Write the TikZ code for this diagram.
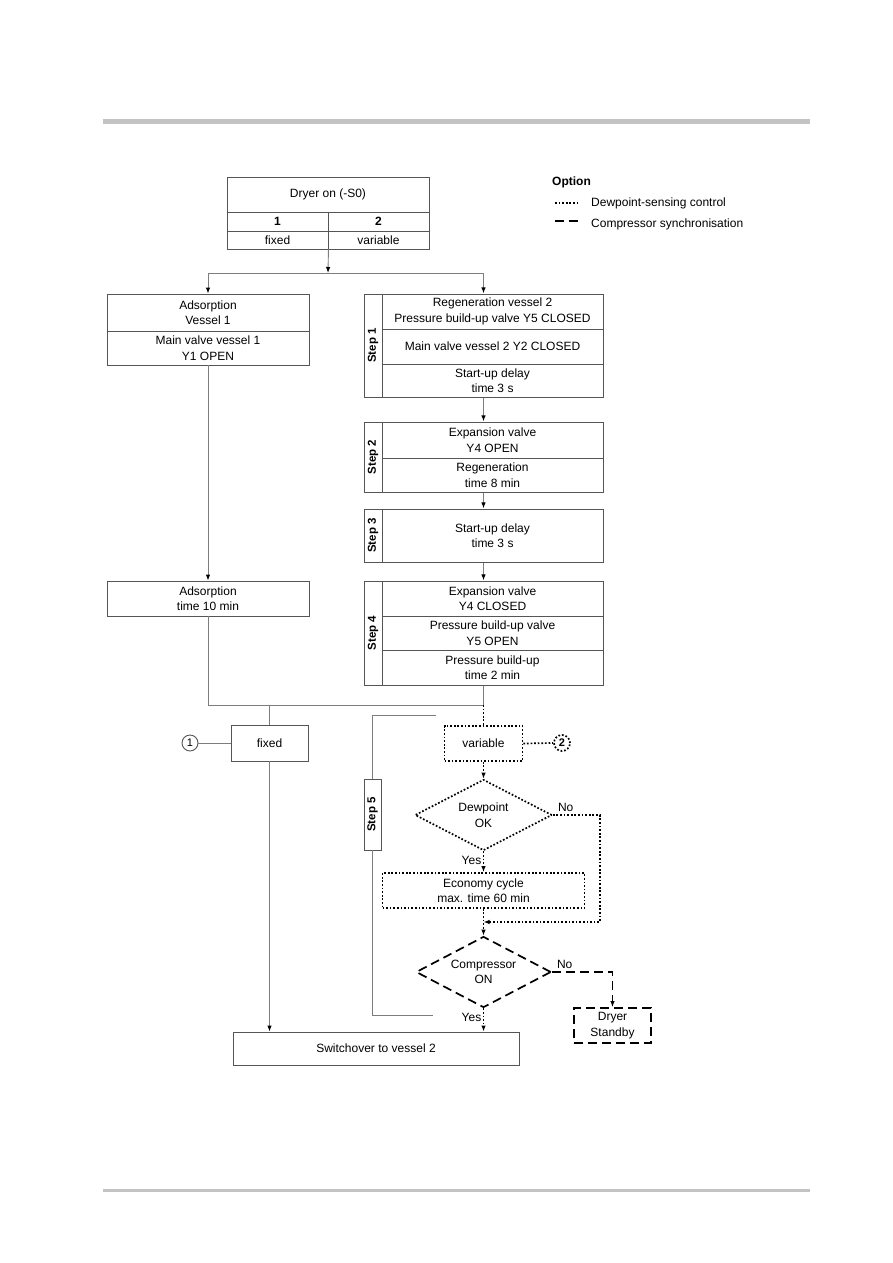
\documentclass[tikz,border=0pt]{standalone}
\usepackage{fontspec}
\setmainfont{Liberation Sans}
\usetikzlibrary{arrows.meta,fit,shapes.geometric,positioning}
\definecolor{frame}{RGB}{85,85,85}
\definecolor{wire}{RGB}{125,125,125}
\definecolor{rule}{RGB}{195,195,195}
\newcommand{\flowfont}{\fontsize{12}{15.5}\selectfont}

\begin{document}
\begin{tikzpicture}[x=1pt,y=-1pt,>={Latex[length=6pt,width=4.5pt,color=black]},
  font=\flowfont,
  cellbox/.style={draw=frame,line width=0.9pt,inner sep=0pt,align=center},
  tabbox/.style={cellbox,minimum width=18pt,font=\fontsize{11.5}{14}\selectfont\bfseries},
  stepcell/.style={cellbox,minimum width=221pt},
  leftcell/.style={cellbox,minimum width=202pt},
  wireline/.style={draw=wire,line width=0.9pt},
  dotline/.style={draw=black,line width=1.7pt,dash pattern=on 1.7pt off 1.9pt},
  dashline/.style={draw=black,line width=1.7pt,dash pattern=on 9pt off 5pt},
  choice/.style={diamond,aspect=1.9,inner sep=0pt,align=center},
  tag/.style={inner sep=1pt}]
\useasboundingbox (0,0) rectangle (893,1263);
\fill[rule] (103,119) rectangle (810,123.5);
\fill[rule] (103,1189) rectangle (810,1192);

\node[anchor=west,inner sep=0pt,font=\flowfont\bfseries] (opt) at (552,182) {Option};
\node[anchor=west,inner sep=0pt] (leg1) at (591,203) {Dewpoint-sensing control};
\node[anchor=west,inner sep=0pt] (leg2) at (591,224) {Compressor synchronisation};
\draw[dotline] ([xshift=-36pt]leg1.west) -- ([xshift=-11pt]leg1.west);
\draw[dashline] ([xshift=-36pt,yshift=3pt]leg2.west) -- ([xshift=-12pt,yshift=3pt]leg2.west);

\node[leftcell,minimum height=35pt] (dryer) at (328,194.5) {Dryer on (-S0)};
\node[cellbox,minimum width=101pt,minimum height=19pt,font=\flowfont\bfseries] (mode1) at (277.5,221.5) {1};
\node[cellbox,minimum width=101pt,minimum height=19pt,font=\flowfont\bfseries] (mode2) at (378.5,221.5) {2};
\node[cellbox,minimum width=101pt,minimum height=18pt] (modefix) at (277.5,240) {fixed};
\node[cellbox,minimum width=101pt,minimum height=18pt] (modevar) at (378.5,240) {variable};
\coordinate (split) at (328,273);

\node[leftcell,minimum height=37pt] (ads1) at (208,312.5) {Adsorption\\Vessel 1};
\node[leftcell,minimum height=34pt] (ads2) at (208,348) {Main valve vessel 1\\Y1 OPEN};
\node[leftcell,minimum height=35pt] (adstime) at (208,598.5) {Adsorption\\time 10 min};

\node[tabbox,minimum height=103pt] (s1tab) at (373,345.5) {\rotatebox{90}{Step 1}};
\node[stepcell,minimum height=35pt] (s1a) at (492.5,311.5) {Regeneration vessel 2\\Pressure build-up valve Y5 CLOSED};
\node[stepcell,minimum height=35pt] (s1b) at (492.5,346.5) {Main valve vessel 2 Y2 CLOSED};
\node[stepcell,minimum height=33pt] (s1c) at (492.5,380.5) {Start-up delay\\time 3 s};
\node[fit=(s1tab)(s1a)(s1c),inner sep=0pt] (step1) {};

\node[tabbox,minimum height=70pt] (s2tab) at (373,457) {\rotatebox{90}{Step 2}};
\node[stepcell,minimum height=36pt] (s2a) at (492.5,440) {Expansion valve\\Y4 OPEN};
\node[stepcell,minimum height=34pt] (s2b) at (492.5,475) {Regeneration\\time 8 min};
\node[fit=(s2tab)(s2a)(s2b),inner sep=0pt] (step2) {};

\node[tabbox,minimum height=53pt] (s3tab) at (373,535.5) {\rotatebox{90}{Step 3}};
\node[stepcell,minimum height=53pt] (s3a) at (492.5,535.5) {Start-up delay\\time 3 s};
\node[fit=(s3tab)(s3a),inner sep=0pt] (step3) {};

\node[tabbox,minimum height=104pt] (s4tab) at (373,633) {\rotatebox{90}{Step 4}};
\node[stepcell,minimum height=35pt] (s4a) at (492.5,598.5) {Expansion valve\\Y4 CLOSED};
\node[stepcell,minimum height=34pt] (s4b) at (492.5,633) {Pressure build-up valve\\Y5 OPEN};
\node[stepcell,minimum height=35pt] (s4c) at (492.5,667.5) {Pressure build-up\\time 2 min};
\node[fit=(s4tab)(s4a)(s4c),inner sep=0pt] (step4) {};
\coordinate (merge) at (483.5,705);

\node[cellbox,minimum width=77pt,minimum height=36pt] (fixed) at (269.5,743) {fixed};
\node[circle,draw=frame,line width=0.9pt,inner sep=0pt,minimum size=16pt,font=\fontsize{11}{13}\selectfont] (c1) at (190,743) {1};
\node[cellbox,dotline,minimum width=78pt,minimum height=35pt] (var) at (483.5,743.5) {variable};
\node[circle,dotline,inner sep=0pt,minimum size=16pt,font=\fontsize{11}{13}\selectfont\bfseries] (c2) at (562,743) {2};

\node[tabbox,minimum width=17pt,minimum height=71pt] (s5tab) at (372.5,814.5) {\rotatebox{90}{Step 5}};
\coordinate (s5top) at (436,715);
\coordinate (s5end) at (433,1015);

\node[choice,dotline,minimum width=137pt,minimum height=71pt] (dew) at (483.5,815) {Dewpoint\\OK};
\node[cellbox,dotline,minimum width=202pt,minimum height=35pt] (econ) at (483.5,890.5) {Economy cycle\\max. time 60 min};
\coordinate (join) at (483.5,922);
\node[choice,dashline,minimum width=135pt,minimum height=71pt] (comp) at (483.5,972) {Compressor\\ON};
\node[cellbox,dashline,minimum width=77pt,minimum height=35pt] (standby) at (612.5,1025.5) {Dryer\\Standby};
\node[cellbox,minimum width=286pt,minimum height=33pt] (switch) at (376,1048.5) {Switchover to vessel 2};

\node[tag,anchor=south west] (no1) at ([xshift=4pt,yshift=2pt]dew.east) {No};
\node[tag,anchor=north east] (yes1) at ([xshift=-1pt,yshift=-4pt]dew.south) {Yes};
\node[tag,anchor=south west] (no2) at ([xshift=4pt,yshift=2pt]comp.east) {No};
\node[tag,anchor=north east] (yes2) at ([xshift=-1pt,yshift=-4pt]comp.south) {Yes};

\draw[wireline,->] (modefix.south east) -- (split);
\draw[wireline,->] (split) -| (ads1.north);
\draw[wireline,->] (split) -| (step1.north);
\draw[wireline,->] (step1.south) -- (step2.north);
\draw[wireline,->] (step2.south) -- (step3.north);
\draw[wireline,->] (step3.south) -- (step4.north);
\draw[wireline,->] (ads2.south) -- (adstime.north);
\draw[wireline] (adstime.south) |- (merge);
\draw[wireline] (step4.south) -- (merge);
\draw[wireline] (fixed.north) -- (fixed.north |- merge);
\draw[wireline] (c1.east) -- (fixed.west);
\draw[wireline,->] (fixed.south) -- (fixed.south |- switch.north);
\draw[wireline] (s5tab.north) |- (s5top);
\draw[wireline] (s5tab.south) |- (s5end);
\draw[dotline] (merge) -- (var.north);
\draw[dotline] (var.east) -- (c2.west);
\draw[dotline,->] (var.south) -- (dew.north);
\draw[dotline,->] (dew.south) -- (econ.north);
\draw[dotline,->] (dew.east) -- ++(47,0) |- (join);
\draw[dotline,->] (econ.south) -- (comp.north);
\draw[dashline,->] (comp.east) -| (standby.north);
\draw[dotline,->] (comp.south) -- (comp.south |- switch.north);
\end{tikzpicture}
\end{document}
